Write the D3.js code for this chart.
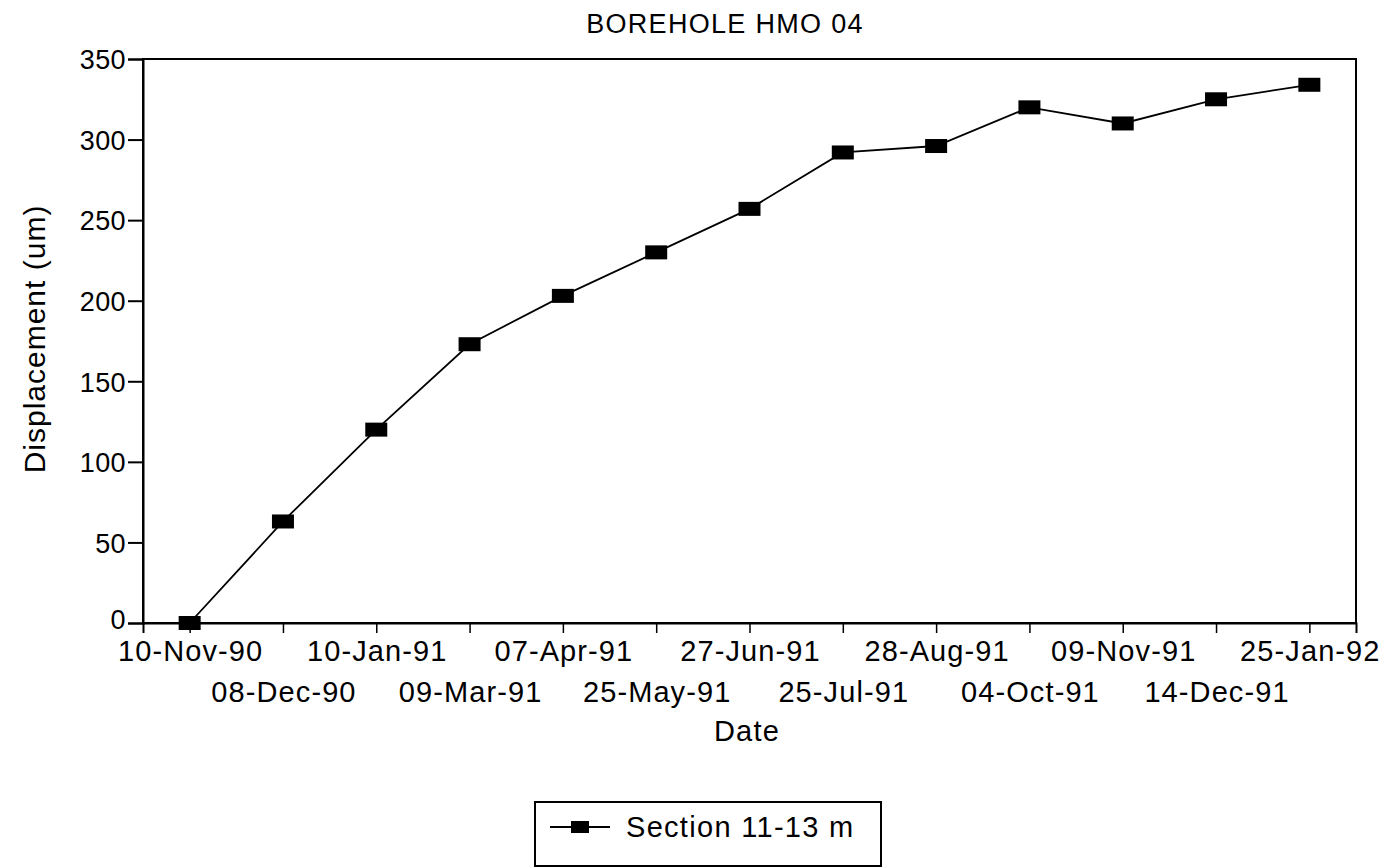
<!DOCTYPE html>
<html>
<head>
<meta charset="utf-8">
<script src="https://cdn.jsdelivr.net/npm/d3@7/dist/d3.min.js"></script>
<style>
  html, body { margin: 0; padding: 0; background: #fff; }
  svg text { font-family: "Liberation Sans", Arial, Helvetica, sans-serif; fill: #000; }
</style>
</head>
<body>
<svg id="chart" width="1397" height="868"></svg>
<script>
// Survey dates (category axis) and measured displacement for the 11-13 m section
const dates = ["10-Nov-90", "08-Dec-90", "10-Jan-91", "09-Mar-91", "07-Apr-91", "25-May-91",
               "27-Jun-91", "25-Jul-91", "28-Aug-91", "04-Oct-91", "09-Nov-91", "14-Dec-91", "25-Jan-92"];
const displacement = [0, 63, 120, 173, 203, 230, 257, 292, 296, 320, 310, 325, 334];
const yTicks = [0, 50, 100, 150, 200, 250, 300, 350];
const seriesName = "Section 11-13 m";
const chartTitle = "BOREHOLE HMO 04";
const xTitle = "Date";
const yTitle = "Displacement (um)";

const svg = d3.select("#chart");
const plot = { left: 143, right: 1356, top: 59, bottom: 623 };

const x = d3.scalePoint().domain(dates).range([plot.left, plot.right]).padding(0.5);
const y = d3.scaleLinear().domain([0, 350]).range([plot.bottom, plot.top]);

// Title
svg.append("text")
  .attr("x", 725).attr("y", 33)
  .attr("text-anchor", "middle")
  .style("font-size", "27px").style("letter-spacing", "1.3px")
  .text(chartTitle);

// Plot frame
svg.append("rect")
  .attr("x", plot.left).attr("y", plot.top)
  .attr("width", plot.right - plot.left).attr("height", plot.bottom - plot.top)
  .attr("fill", "none").attr("stroke", "#000").attr("stroke-width", 2);

// Y axis
const yAxis = svg.append("g")
  .attr("transform", `translate(${plot.left},0)`)
  .call(d3.axisLeft(y).tickValues(yTicks).tickSize(15).tickPadding(2).tickFormat(d3.format("d")));
yAxis.select(".domain").attr("stroke-width", 2);
yAxis.selectAll(".tick line").attr("stroke-width", 2);
yAxis.selectAll(".tick text")
  .style("font-size", "27px").style("letter-spacing", "0.4px")
  // the zero label sits a little higher so it clears the first date label
  .attr("dy", d => d === 0 ? "0.22em" : "0.36em");
yAxis.attr("font-size", null).attr("font-family", null);

// X axis: ticks at each survey date, labels alternate between two rows
const xAxis = svg.append("g")
  .attr("transform", `translate(0,${plot.bottom})`)
  .call(d3.axisBottom(x).tickSize(10).tickFormat(""));
xAxis.select(".domain").attr("stroke-width", 2);
xAxis.selectAll(".tick line").attr("stroke-width", 1.5);
xAxis.attr("font-size", null).attr("font-family", null);

svg.append("g").selectAll("text")
  .data(dates)
  .join("text")
  .attr("x", d => x(d) + 1)
  .attr("y", (d, i) => i % 2 === 0 ? 661 : 702)
  .attr("text-anchor", "middle")
  .style("font-size", "29px").style("letter-spacing", "1.1px")
  .text(d => d);

// Axis titles
svg.append("text")
  .attr("x", 747).attr("y", 741)
  .attr("text-anchor", "middle")
  .style("font-size", "29px").style("letter-spacing", "1.2px")
  .text(xTitle);

svg.append("text")
  .attr("transform", "translate(45,339) rotate(-90)")
  .attr("text-anchor", "middle")
  .style("font-size", "30px").style("letter-spacing", "1px")
  .text(yTitle);

// Series line and square markers
const pts = dates.map((d, i) => ({ d, v: displacement[i] }));
svg.append("path")
  .datum(pts)
  .attr("fill", "none").attr("stroke", "#000").attr("stroke-width", 1.8)
  .attr("d", d3.line().x(p => x(p.d)).y(p => y(p.v)));

const mw = 22, mh = 14;
svg.append("g").selectAll("rect")
  .data(pts)
  .join("rect")
  .attr("x", p => x(p.d) - mw / 2)
  .attr("y", p => y(p.v) - mh / 2)
  .attr("width", mw).attr("height", mh)
  .attr("fill", "#000");

// Legend
const lg = svg.append("g").attr("transform", "translate(535,802)");
lg.append("rect")
  .attr("x", 0).attr("y", 0).attr("width", 346).attr("height", 64)
  .attr("fill", "#fff").attr("stroke", "#000").attr("stroke-width", 2);
lg.append("line")
  .attr("x1", 15).attr("x2", 75).attr("y1", 25).attr("y2", 25)
  .attr("stroke", "#000").attr("stroke-width", 1.8);
lg.append("rect")
  .attr("x", 36).attr("y", 19).attr("width", 18).attr("height", 12)
  .attr("fill", "#000");
lg.append("text")
  .attr("x", 91).attr("y", 35)
  .style("font-size", "29px").style("letter-spacing", "1.3px")
  .text(seriesName);
</script>
</body>
</html>
